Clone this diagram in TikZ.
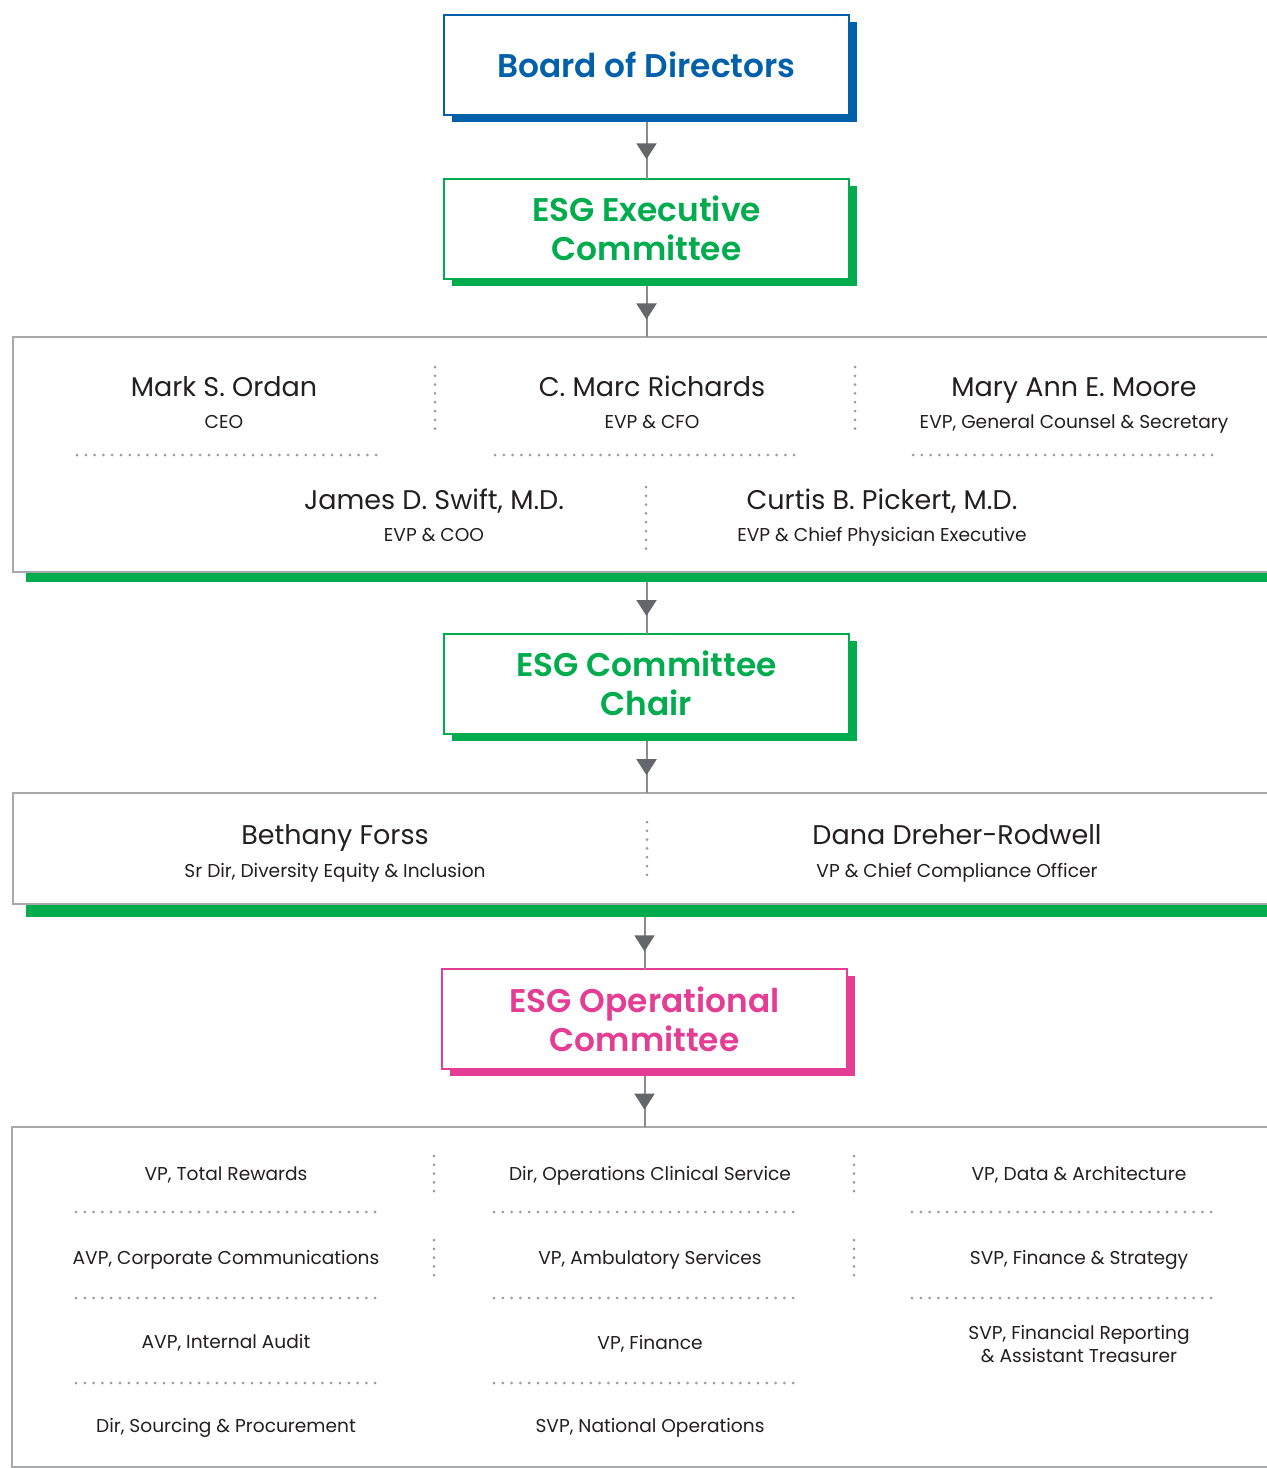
\documentclass[tikz,border=0pt]{standalone}
\usepackage{fontspec}
\setmainfont{Poppins}[Ligatures=NoCommon]
\newfontfamily\headfont{Poppins SemiBold}[Ligatures=NoCommon]
\usetikzlibrary{shadows,arrows.meta,decorations.markings}
\definecolor{bodblue}{HTML}{0060A9}
\definecolor{esggreen}{HTML}{00AC4E}
\definecolor{esgpink}{HTML}{E33D94}
\definecolor{rulegray}{HTML}{A7A9AC}
\definecolor{linegray}{HTML}{8A8C8F}
\definecolor{arrowgray}{HTML}{63666A}
\definecolor{dotgray}{HTML}{999B9E}
\definecolor{txt}{HTML}{231F20}
\begin{document}
\begin{tikzpicture}[x=1pt,y=-1pt,
		box/.style={draw=#1,fill=white,line width=2pt,text=#1,outer sep=0pt,minimum width=405pt,minimum height=100pt,align=center,
			font=\headfont\fontsize{32.8}{39}\selectfont,drop shadow={shadow xshift=7.5pt,shadow yshift=-7pt,fill=#1,opacity=1}},
		panel/.style={draw=rulegray,fill=white,line width=2pt,outer sep=0pt,anchor=north west,minimum width=1280pt,
			drop shadow={shadow xshift=13pt,shadow yshift=-#1,fill=esggreen,opacity=1}},
		person/.style={anchor=base,text=txt,font=\fontsize{27}{30}\selectfont},
		role/.style={anchor=base,text=txt,font=\fontsize{18.6}{23}\selectfont,align=center},
		flow/.style={draw=linegray,line width=2pt,postaction={decorate},
			decoration={markings,mark=at position 0.66 with {\arrow{Triangle[width=20pt,length=16pt,color=arrowgray]}}}},
		sep/.style={draw=dotgray,line width=3pt,line cap=round,dash pattern=on 0pt off 8.8pt}]
	\useasboundingbox (0,0) rectangle (1267,1468);
	\node[box=bodblue] (bod) at (646.5,65) {Board of Directors};
	\node[box=esggreen] (esgx) at (646.5,228.5) {ESG Executive\\Committee};
	\node[panel=10pt,minimum height=235pt] (p1) at (13,337) {};
	\node[box=esggreen] (chair) at (646.5,683.5) {ESG Committee\\Chair};
	\node[panel=13pt,minimum height=111pt] (p2) at (13,793) {};
	\node[box=esgpink] (oper) at (644.5,1019) {ESG Operational\\Committee};
	\node[panel=12pt,minimum height=340pt] (p3) at (12,1127) {};
	% executive committee members
	\path (224,396) node[person] (ordan) {Mark S. Ordan};
	\path (224,428) node[role] (ordanR) {CEO};
	\path (652,396) node[person] (richards) {C. Marc Richards};
	\path (652,428) node[role] (richardsR) {EVP \& CFO};
	\path (1074,396) node[person] (moore) {Mary Ann E. Moore};
	\path (1074,428) node[role] (mooreR) {EVP, General Counsel \& Secretary};
	\path (434,509) node[person] (swift) {James D. Swift, M.D.};
	\path (434,541) node[role] (swiftR) {EVP \& COO};
	\path (882,509) node[person] (pickert) {Curtis B. Pickert, M.D.};
	\path (882,541) node[role] (pickertR) {EVP \& Chief Physician Executive};
	\draw[sep] (435,367) -- (435,429);
	\draw[sep] (855,367) -- (855,429);
	\draw[sep] (77,455) -- (377,455);
	\draw[sep] (495,455) -- (795,455);
	\draw[sep] (913,455) -- (1213,455);
	\draw[sep] (646,487) -- (646,549);
	% committee chair members
	\path (335,844) node[person] (forss) {Bethany Forss};
	\path (335,877) node[role] (forssR) {Sr Dir, Diversity Equity \& Inclusion};
	\path (957,844) node[person] (dreher) {Dana Dreher-Rodwell};
	\path (957,877) node[role] (dreherR) {VP \& Chief Compliance Officer};
	\draw[sep] (647,822) -- (647,875);
	% operational committee members
	\path (226,1180) node[role] (rewards) {VP, Total Rewards};
	\path (226,1264) node[role] (comms) {AVP, Corporate Communications};
	\path (226,1348) node[role] (audit) {AVP, Internal Audit};
	\path (226,1432) node[role] (sourcing) {Dir, Sourcing \& Procurement};
	\path (650,1180) node[role] (clinical) {Dir, Operations Clinical Service};
	\path (650,1264) node[role] (ambulatory) {VP, Ambulatory Services};
	\path (650,1349) node[role] (finance) {VP, Finance};
	\path (650,1432) node[role] (national) {SVP, National Operations};
	\path (1079,1180) node[role] (data) {VP, Data \& Architecture};
	\path (1079,1264) node[role] (strategy) {SVP, Finance \& Strategy};
	\path (1079,1344) node[role,anchor=center] (treasurer) {SVP, Financial Reporting\\\& Assistant Treasurer};
	\draw[sep] (434,1156) -- (434,1196);
	\draw[sep] (434,1240) -- (434,1280);
	\draw[sep] (854,1156) -- (854,1196);
	\draw[sep] (854,1240) -- (854,1280);
	\draw[sep] (76,1212) -- (376,1212);
	\draw[sep] (76,1298) -- (376,1298);
	\draw[sep] (76,1383) -- (376,1383);
	\draw[sep] (494,1212) -- (794,1212);
	\draw[sep] (494,1298) -- (794,1298);
	\draw[sep] (494,1383) -- (794,1383);
	\draw[sep] (912,1212) -- (1212,1212);
	\draw[sep] (912,1298) -- (1212,1298);
	% connectors
	\draw[flow] ([yshift=-7pt]bod.south) -- (esgx);
	\draw[flow] ([yshift=-7pt]esgx.south) -- (esgx.south |- p1.north);
	\draw[flow] ([yshift=-10pt]p1.south -| chair) -- (chair);
	\draw[flow] ([yshift=-7pt]chair.south) -- (chair.south |- p2.north);
	\draw[flow] ([yshift=-13pt]p2.south -| oper) -- (oper);
	\draw[flow] ([yshift=-7pt]oper.south) -- (oper.south |- p3.north);
\end{tikzpicture}
\end{document}
